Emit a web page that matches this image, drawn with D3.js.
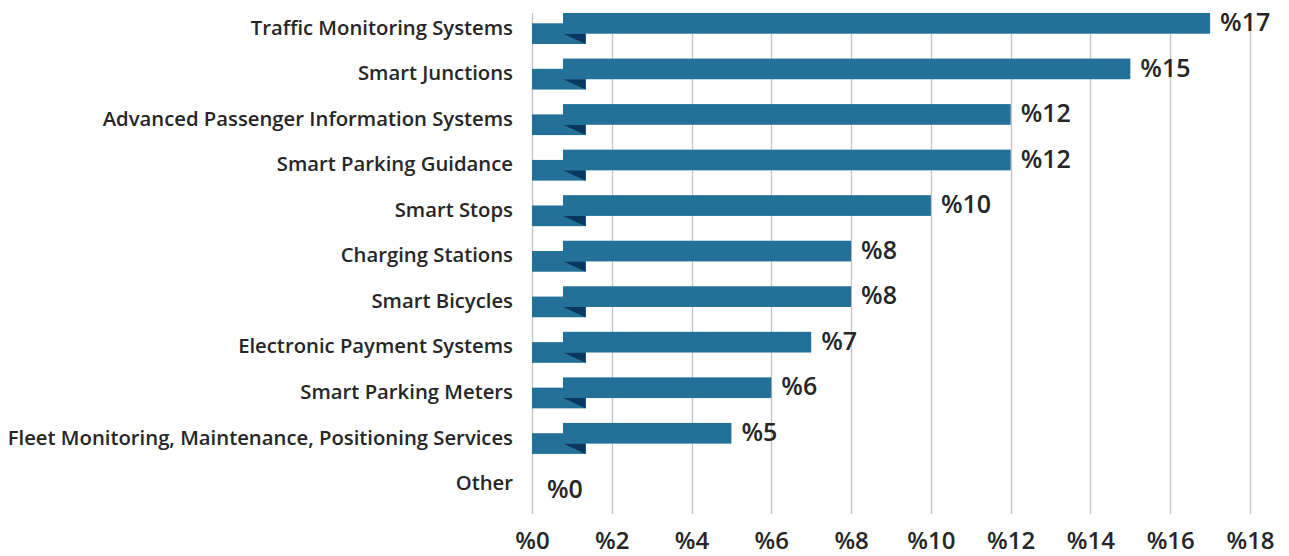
<!DOCTYPE html>
<html>
<head>
<meta charset="utf-8">
<script src="https://cdn.jsdelivr.net/npm/d3@7"></script>
<style>
  html, body { margin: 0; padding: 0; background: #ffffff; }
  svg { display: block; }
  text { font-family: "Open Sans", "Noto Sans", sans-serif; fill: #262626; }
</style>
</head>
<body>
<svg id="chart" width="1289" height="556"></svg>
<script>
// Share of smart-mobility application areas
const categories = [
  "Traffic Monitoring Systems",
  "Smart Junctions",
  "Advanced Passenger Information Systems",
  "Smart Parking Guidance",
  "Smart Stops",
  "Charging Stations",
  "Smart Bicycles",
  "Electronic Payment Systems",
  "Smart Parking Meters",
  "Fleet Monitoring, Maintenance, Positioning Services",
  "Other"
];
const values = [17, 15, 12, 12, 10, 8, 8, 7, 6, 5, 0];
const tickValues = [0, 2, 4, 6, 8, 10, 12, 14, 16, 18];
const pct = d => "%" + d;

const svg = d3.select("#chart");

const x = d3.scaleLinear().domain([0, 18]).range([532, 1250]);
const y = d3.scaleBand().domain(categories).range([13, 514]).padding(0);

// ribbon geometry (pixels)
const barH = 20.7;     // height of front strip
const drop = 10.3;     // vertical offset of folded tail
const tailEnd = 53.7;  // tail length from axis origin
const frontStart = 31; // front strip start from axis origin

// vertical gridlines
svg.append("g")
  .selectAll("line")
  .data(tickValues)
  .join("line")
  .attr("x1", d => Math.round(x(d)) + 0.5)
  .attr("x2", d => Math.round(x(d)) + 0.5)
  .attr("y1", 13)
  .attr("y2", 514)
  .attr("stroke", "#c3c3c3")
  .attr("stroke-width", 1.3);

// x axis labels
const xAxis = d3.axisBottom(x).tickValues(tickValues).tickFormat(pct).tickSize(0).tickPadding(0);
const gx = svg.append("g").attr("transform", "translate(0,531)").call(xAxis);
gx.select(".domain").remove();
gx.selectAll("text")
  .attr("dy", null)
  .attr("y", 18)
  .attr("font-size", 24)
  .attr("font-weight", 600)
  .style("font-family", "'Open Sans', sans-serif")
  .attr("fill", "#262626");

// category labels
const yAxis = d3.axisLeft(y).tickSize(0).tickPadding(0);
const gy = svg.append("g").attr("transform", "translate(513,0)").call(yAxis);
gy.select(".domain").remove();
gy.selectAll(".tick").attr("transform", d => `translate(0,${y(d) + 14.5})`);
gy.selectAll("text")
  .attr("x", 0)
  .attr("dy", "0.35em")
  .attr("font-size", 20.3)
  .attr("font-weight", 600)
  .style("font-family", "'Open Sans', sans-serif")
  .attr("fill", "#262626");

const rows = categories.map((c, i) => ({ c, v: values[i] }));
const bars = svg.append("g").selectAll("g").data(rows.filter(r => r.v > 0)).join("g");

// folded tail
bars.append("rect")
  .attr("x", x(0))
  .attr("y", d => y(d.c) + drop)
  .attr("width", tailEnd)
  .attr("height", barH)
  .attr("fill", "#237199");

// shadow fold
bars.append("path")
  .attr("d", d => {
    const t = y(d.c);
    const x0 = x(0) + frontStart, x1 = x(0) + tailEnd;
    return `M${x0},${t + barH}L${x1},${t + barH}L${x1},${t + drop + barH}Z`;
  })
  .attr("fill", "#0a3760");

// front strip
bars.append("rect")
  .attr("x", x(0) + frontStart)
  .attr("y", d => y(d.c))
  .attr("width", d => x(d.v) - x(0) - frontStart)
  .attr("height", barH)
  .attr("fill", "#237199");

// value labels
svg.append("g")
  .selectAll("text")
  .data(rows)
  .join("text")
  .attr("x", d => d.v > 0 ? x(d.v) + 10 : x(0) + 15)
  .attr("y", d => d.v > 0 ? y(d.c) + barH / 2 - 1 : y(d.c) + drop + barH / 2)
  .attr("dy", "0.35em")
  .attr("font-size", 25)
  .attr("font-weight", 600)
  .text(d => pct(d.v));
</script>
</body>
</html>
